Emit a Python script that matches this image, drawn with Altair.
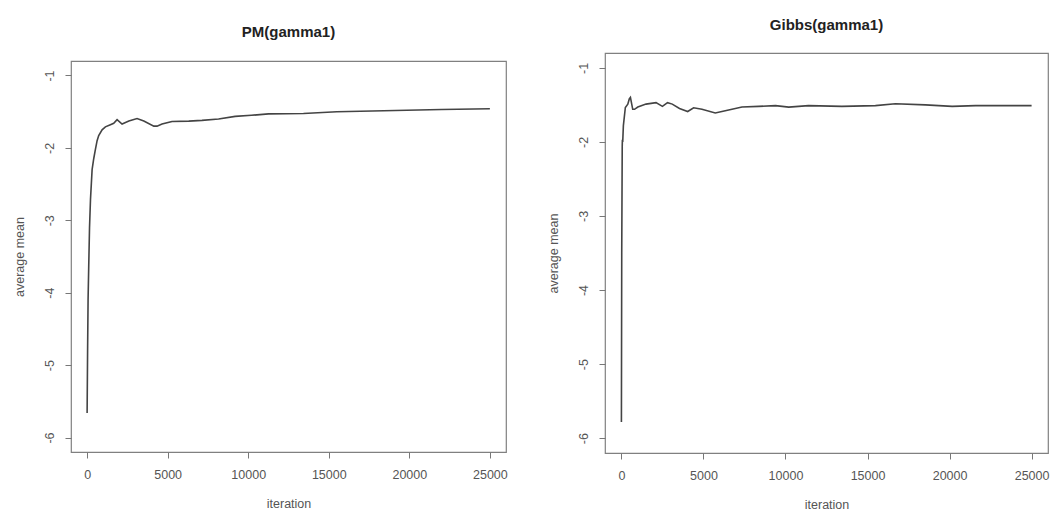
import altair as alt
import pandas as pd

# ---- data ----
pm_iter = [0, 30, 60, 100, 150, 210, 310, 410, 515, 620, 720, 930, 1135, 1445, 1650,
           1860, 2170, 2590, 3100, 3520, 4140, 4340, 4650, 5270, 6310, 7130, 8160,
           9190, 10200, 11260, 13430, 15500, 17700, 19840, 22000, 25000]
pm_mean = [-5.66, -4.80, -4.10, -3.64, -3.10, -2.71, -2.30, -2.15, -2.02, -1.90, -1.83,
           -1.75, -1.71, -1.68, -1.66, -1.61, -1.67, -1.63, -1.595, -1.63, -1.70, -1.70,
           -1.67, -1.635, -1.63, -1.62, -1.60, -1.565, -1.55, -1.53, -1.525, -1.50,
           -1.49, -1.48, -1.47, -1.46]

gibbs_iter = [0, 20, 50, 60, 80, 120, 240, 390, 480, 550, 620, 690, 800, 1000, 1250,
              1500, 2110, 2500, 2810, 3100, 3540, 4040, 4400, 4910, 5720, 6330, 7350,
              8370, 9390, 10200, 11400, 13440, 15480, 16700, 18530, 20160, 21590, 25000]
gibbs_mean = [-5.78, -3.50, -2.06, -1.97, -2.00, -1.78, -1.535, -1.49, -1.42, -1.40,
              -1.48, -1.56, -1.56, -1.53, -1.51, -1.49, -1.47, -1.52, -1.47, -1.49,
              -1.55, -1.59, -1.54, -1.56, -1.61, -1.58, -1.53, -1.52, -1.51, -1.53,
              -1.51, -1.52, -1.51, -1.485, -1.50, -1.52, -1.51, -1.51]

x_ticks = [0, 5000, 10000, 15000, 20000, 25000]
y_ticks = [-6, -5, -4, -3, -2, -1]
titles = ["PM(gamma1)", "Gibbs(gamma1)"]

FONT = "Liberation Sans"
TXT = "#555555"


def panel(iters, means, title, offset, w, h):
    df = pd.DataFrame({"iteration": iters, "mean": means})
    x = alt.X("iteration:Q",
              scale=alt.Scale(domain=[-1000, 26000], nice=False, zero=False),
              axis=alt.Axis(values=x_ticks, title="iteration", grid=False, domain=False,
                            tickSize=6, tickColor="#777777", labelPadding=10,
                            labelFontSize=12.5, labelColor=TXT, labelFont=FONT,
                            titleFontSize=12.5, titleColor=TXT, titleFont=FONT,
                            titleFontWeight="normal", titlePadding=17,
                            labelFlush=False, labelOverlap=False,
                            labelExpr="'' + datum.value"))
    y = alt.Y("mean:Q",
              scale=alt.Scale(domain=[-6.2, -0.8], nice=False, zero=False),
              axis=alt.Axis(values=y_ticks, title="average mean", grid=False, domain=False,
                            tickSize=6, tickColor="#777777", labelPadding=9,
                            labelAngle=270, labelAlign="center", labelBaseline="bottom",
                            labelFontSize=12.5, labelColor=TXT, labelFont=FONT,
                            titleFontSize=12.5, titleColor=TXT, titleFont=FONT,
                            titleFontWeight="normal", titlePadding=17,
                            labelFlush=False, labelOverlap=False,
                            labelExpr="'' + datum.value"))
    return (
        alt.Chart(df)
        .mark_line(color="#444444", strokeWidth=1.6)
        .encode(x=x, y=y, order="iteration:Q")
        .properties(width=w, height=h,
                    title=alt.TitleParams(text=title, fontSize=15, font=FONT,
                                          fontWeight="bold", color="#222222",
                                          baseline="bottom", offset=offset))
    )


def spacer(w, h):
    # invisible strip above a panel, used only to set its vertical position
    return (
        alt.Chart(alt.Data(values=[{"v": 0}]))
        .mark_point(opacity=0, size=1)
        .encode(x=alt.value(1), y=alt.value(1))
        .properties(width=w, height=h,
                    view=alt.ViewBackground(strokeOpacity=0, fillOpacity=0))
    )


left = panel(pm_iter, pm_mean, titles[0], 6, 435, 391)
right = panel(gibbs_iter, gibbs_mean, titles[1], 5, 443, 400)

left_col = alt.vconcat(spacer(435, 22), left, spacing=0)
right_col = alt.vconcat(spacer(443, 15), right, spacing=0)

chart = (
    alt.hconcat(left_col, right_col, spacing=38)
    .properties(padding={"left": 12, "top": 2, "right": 0, "bottom": 0},
                background="white")
    .configure_view(stroke="#808080", strokeWidth=1.2)
)

chart.save("out.html", embed_options={"renderer": "svg", "actions": False})
